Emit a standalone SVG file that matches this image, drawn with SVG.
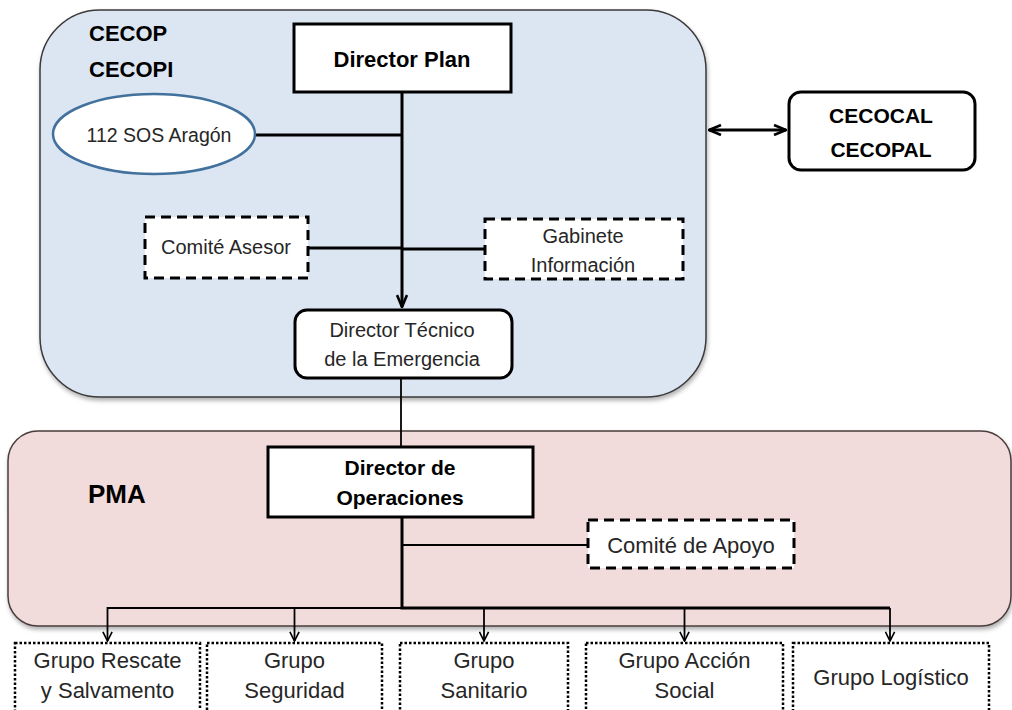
<svg xmlns="http://www.w3.org/2000/svg" width="1012" height="710" viewBox="0 0 1012 710">
<defs>
<style>
.t{font-family:"Liberation Sans",Arial,sans-serif;fill:#262626;text-anchor:middle}
.b{font-family:"Liberation Sans",Arial,sans-serif;fill:#000;font-weight:bold;text-anchor:middle}
.solid{fill:#fff;stroke:#000;stroke-width:3}
.dash{fill:#fff;stroke:#000;stroke-width:3;stroke-dasharray:10 6}
.dot{fill:#fff;stroke:#000;stroke-width:2.5;stroke-dasharray:2.5 2}
.thick{fill:none;stroke:#000;stroke-width:3}
.thin{fill:none;stroke:#000;stroke-width:1.8}
</style>
<filter id="sh" x="-5%" y="-5%" width="110%" height="115%">
<feDropShadow dx="1" dy="3" stdDeviation="2" flood-color="#000" flood-opacity="0.3"/>
</filter>
<marker id="big" viewBox="0 0 14 12" refX="13" refY="6" markerWidth="14" markerHeight="12" markerUnits="userSpaceOnUse" orient="auto-start-reverse">
<path d="M1,1 L13,6 L1,11" fill="none" stroke="#000" stroke-width="2.6"/>
</marker>
<marker id="sm" viewBox="0 0 12 12" refX="11" refY="6" markerWidth="11" markerHeight="11" markerUnits="userSpaceOnUse" orient="auto">
<path d="M1,1 L11,6 L1,11" fill="none" stroke="#000" stroke-width="1.8"/>
</marker>
</defs>

<g id="cecop-container">
<rect x="40" y="10" width="666" height="387" rx="60" ry="60" fill="#dce6f2" stroke="#3a3a3a" stroke-width="1.5" filter="url(#sh)"/>
<text class="b" x="89" y="41" font-size="22" style="text-anchor:start">CECOP</text>
<text class="b" x="89" y="77" font-size="22" style="text-anchor:start">CECOPI</text>
</g>

<g id="pma-container">
<rect x="8" y="431" width="1003" height="195" rx="30" ry="30" fill="#f2dcdb" stroke="#4a3c3c" stroke-width="1.5" filter="url(#sh)"/>
<text class="b" x="88" y="503" font-size="26" style="text-anchor:start">PMA</text>
</g>

<g id="connectors">
<path class="thick" d="M402,92 V307" marker-end="url(#big)"/>
<path class="thick" d="M255,135 H402"/>
<path class="thick" d="M308,248 H402 M402,249 H485"/>
<path class="thin" d="M401,378 V447"/>
<path class="thick" d="M709,130 H786" marker-start="url(#big)" marker-end="url(#big)"/>
<path class="thick" d="M402,517 V608 H890"/>
<path class="thin" d="M402,545 H588"/>
<path class="thin" d="M402,608 H107.5 V641" marker-end="url(#sm)"/>
<path class="thin" d="M294.5,608 V641" marker-end="url(#sm)"/>
<path class="thin" d="M484,608 V641" marker-end="url(#sm)"/>
<path class="thin" d="M684.5,608 V641" marker-end="url(#sm)"/>
<path class="thin" d="M890,608 V641" marker-end="url(#sm)"/>
</g>

<g id="director-plan">
<rect class="solid" x="294" y="24" width="217" height="68"/>
<text class="b" x="402" y="67" font-size="22">Director Plan</text>
</g>

<g id="sos-aragon">
<ellipse cx="154" cy="134" rx="101" ry="40" fill="#fff" stroke="#41719c" stroke-width="2.5"/>
<text class="t" x="159" y="142" font-size="19.5">112 SOS Aragón</text>
</g>

<g id="comite-asesor">
<rect class="dash" x="145" y="217" width="163" height="61"/>
<text class="t" x="226" y="254" font-size="20">Comité Asesor</text>
</g>

<g id="gabinete-informacion">
<rect class="dash" x="485" y="219" width="198" height="60"/>
<text class="t" x="583" y="243" font-size="20">Gabinete</text>
<text class="t" x="583" y="272" font-size="20">Información</text>
</g>

<g id="director-tecnico">
<rect x="295" y="310" width="217" height="68" rx="12" ry="12" fill="#fff" stroke="#000" stroke-width="3"/>
<text class="t" x="402" y="337" font-size="20">Director Técnico</text>
<text class="t" x="402" y="366" font-size="20">de la Emergencia</text>
</g>

<g id="cecocal">
<rect x="789" y="92" width="186" height="78" rx="12" ry="12" fill="#fff" stroke="#000" stroke-width="3"/>
<text class="b" x="881" y="123" font-size="21">CECOCAL</text>
<text class="b" x="881" y="157" font-size="21">CECOPAL</text>
</g>

<g id="director-operaciones">
<rect class="solid" x="268" y="447" width="265" height="70"/>
<text class="b" x="400" y="475" font-size="21">Director de</text>
<text class="b" x="400" y="505" font-size="21">Operaciones</text>
</g>

<g id="comite-apoyo">
<rect class="dash" x="588" y="520" width="206" height="48"/>
<text class="t" x="691" y="553" font-size="22">Comité de Apoyo</text>
</g>

<g id="grupo-rescate">
<rect class="dot" x="15" y="643" width="185" height="70"/>
<text class="t" x="107.5" y="668" font-size="22">Grupo Rescate</text>
<text class="t" x="107.5" y="698" font-size="22">y Salvamento</text>
</g>
<g id="grupo-seguridad">
<rect class="dot" x="207" y="643" width="175" height="70"/>
<text class="t" x="294.5" y="668" font-size="22">Grupo</text>
<text class="t" x="294.5" y="698" font-size="22">Seguridad</text>
</g>
<g id="grupo-sanitario">
<rect class="dot" x="400" y="643" width="168" height="70"/>
<text class="t" x="484" y="668" font-size="22">Grupo</text>
<text class="t" x="484" y="698" font-size="22">Sanitario</text>
</g>
<g id="grupo-accion-social">
<rect class="dot" x="586" y="643" width="197" height="70"/>
<text class="t" x="684.5" y="668" font-size="22">Grupo Acción</text>
<text class="t" x="684.5" y="698" font-size="22">Social</text>
</g>
<g id="grupo-logistico">
<rect class="dot" x="793" y="643" width="196" height="70"/>
<text class="t" x="891" y="685" font-size="22">Grupo Logístico</text>
</g>
</svg>
